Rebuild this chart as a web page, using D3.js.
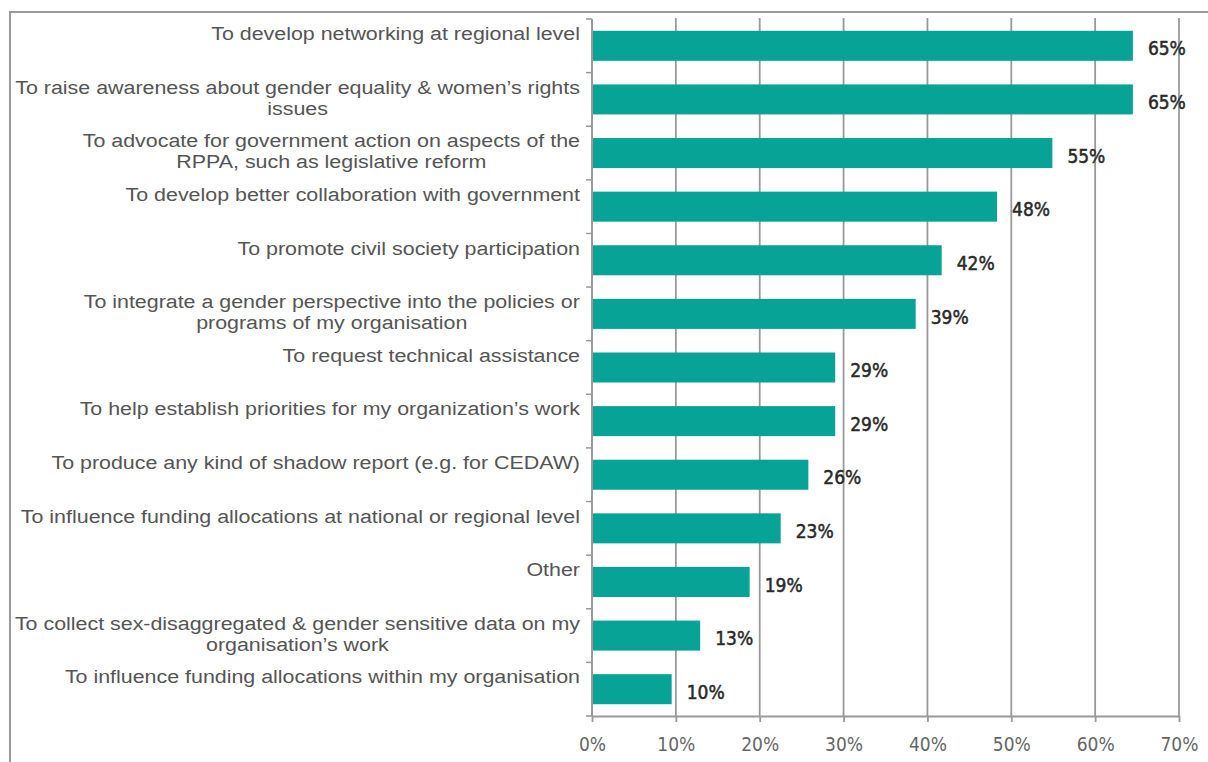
<!DOCTYPE html>
<html>
<head>
<meta charset="utf-8">
<script src="https://cdn.jsdelivr.net/npm/d3@7"></script>
<style>
  html, body { margin: 0; padding: 0; background: #fff; }
  svg { display: block; }
</style>
</head>
<body>
<svg id="chart" width="1208" height="762"></svg>
<script>
const categories = [
  ["To develop networking at regional level"],
  ["To raise awareness about gender equality & women\u2019s rights", "issues"],
  ["To advocate for government action on aspects of the", "RPPA, such as legislative reform"],
  ["To develop better collaboration with government"],
  ["To promote civil society participation"],
  ["To integrate a gender perspective into the policies or", "programs of my organisation"],
  ["To request technical assistance"],
  ["To help establish priorities for my organization\u2019s work"],
  ["To produce any kind of shadow report (e.g. for CEDAW)"],
  ["To influence funding allocations at national or regional level"],
  ["Other"],
  ["To collect sex-disaggregated & gender sensitive data on my", "organisation\u2019s work"],
  ["To influence funding allocations within my organisation"]
];
const values = [64.5, 64.5, 54.9, 48.3, 41.7, 38.6, 29.0, 29.0, 25.8, 22.5, 18.8, 12.9, 9.5];
const xTicks = [0, 10, 20, 30, 40, 50, 60, 70];

(function () {
const svg = d3.select("#chart");
const pLeft = 592, pRight = 1179, pTop = 19, pBottom = 716;

// frame
svg.append("rect")
  .attr("x", 10).attr("y", 12).attr("width", 1230).attr("height", 780)
  .attr("fill", "none").attr("stroke", "#9a9a9a").attr("stroke-width", 2);

const x = d3.scaleLinear().domain([0, 70]).range([pLeft, pRight]);
const idx = d3.range(categories.length);
const y = d3.scaleBand().domain(idx).range([pTop, pBottom]).paddingInner(0.44).paddingOuter(0.22);

// gridlines
svg.append("g").selectAll("line").data(xTicks.slice(1)).join("line")
  .attr("x1", d => x(d)).attr("x2", d => x(d))
  .attr("y1", 18).attr("y2", pBottom)
  .attr("stroke", "#999").attr("stroke-width", 1.8);

// bars
svg.append("g").selectAll("rect").data(values).join("rect")
  .attr("x", x(0))
  .attr("y", (d, i) => y(i))
  .attr("width", d => x(d) - x(0))
  .attr("height", y.bandwidth())
  .attr("fill", "#07a396");

// x axis
const xAxis = d3.axisBottom(x).tickValues(xTicks).tickFormat(d => d + "%").tickSize(6).tickSizeOuter(0);
const gx = svg.append("g").attr("transform", `translate(0,${pBottom})`).call(xAxis);
gx.select(".domain").attr("stroke", "#999").attr("stroke-width", 2.2);
gx.selectAll(".tick line").attr("stroke", "#999").attr("stroke-width", 1.8);
gx.selectAll(".tick text")
  .attr("y", 22)
  .attr("font-family", "'DejaVu Sans Condensed', 'DejaVu Sans', sans-serif")
  .attr("font-size", 19).attr("fill", "#666");

// y axis line & ticks at band boundaries
svg.append("line")
  .attr("x1", pLeft).attr("x2", pLeft).attr("y1", pTop).attr("y2", pBottom)
  .attr("stroke", "#999").attr("stroke-width", 2);
const boundaries = d3.range(categories.length + 1).map(i => pTop + i * (pBottom - pTop) / categories.length);
svg.append("g").selectAll("line").data(boundaries).join("line")
  .attr("x1", pLeft - 6).attr("x2", pLeft)
  .attr("y1", d => d).attr("y2", d => d)
  .attr("stroke", "#999").attr("stroke-width", 1.5);

// category labels (horizontally stretched like the reference)
const sx = 1.19;
const ax = 580 / sx;
const labG = svg.append("g")
  .attr("transform", `scale(${sx},1)`)
  .attr("font-family", "'Liberation Sans', Arial, sans-serif")
  .attr("font-size", 18).attr("fill", "#555");
categories.forEach((lines, i) => {
  const cy = y(i) + y.bandwidth() / 2;
  const t = labG.append("text").attr("y", cy - 12).attr("dy", "0.35em")
    .attr("text-anchor", lines.length > 1 ? "middle" : "end");
  lines.forEach((ln, j) => {
    const ts = t.append("tspan").attr("x", ax).text(ln);
    if (j > 0) ts.attr("dy", 21);
  });
  if (lines.length > 1) {
    const w = t.node().getBBox().width;
    t.selectAll("tspan").attr("x", ax - w / 2);
  }
});

// value labels
svg.append("g").selectAll("text").data(values).join("text")
  .attr("x", d => x(d) + 15)
  .attr("y", (d, i) => y(i) + y.bandwidth() / 2 + 3)
  .attr("dy", "0.35em")
  .attr("font-family", "'DejaVu Sans Condensed', 'DejaVu Sans', sans-serif")
  .attr("font-size", 19).attr("fill", "#2a2a2a")
  .attr("stroke", "#2a2a2a").attr("stroke-width", 0.5)
  .text(d => d3.format(".0f")(d) + "%");
})();
</script>
</body>
</html>
